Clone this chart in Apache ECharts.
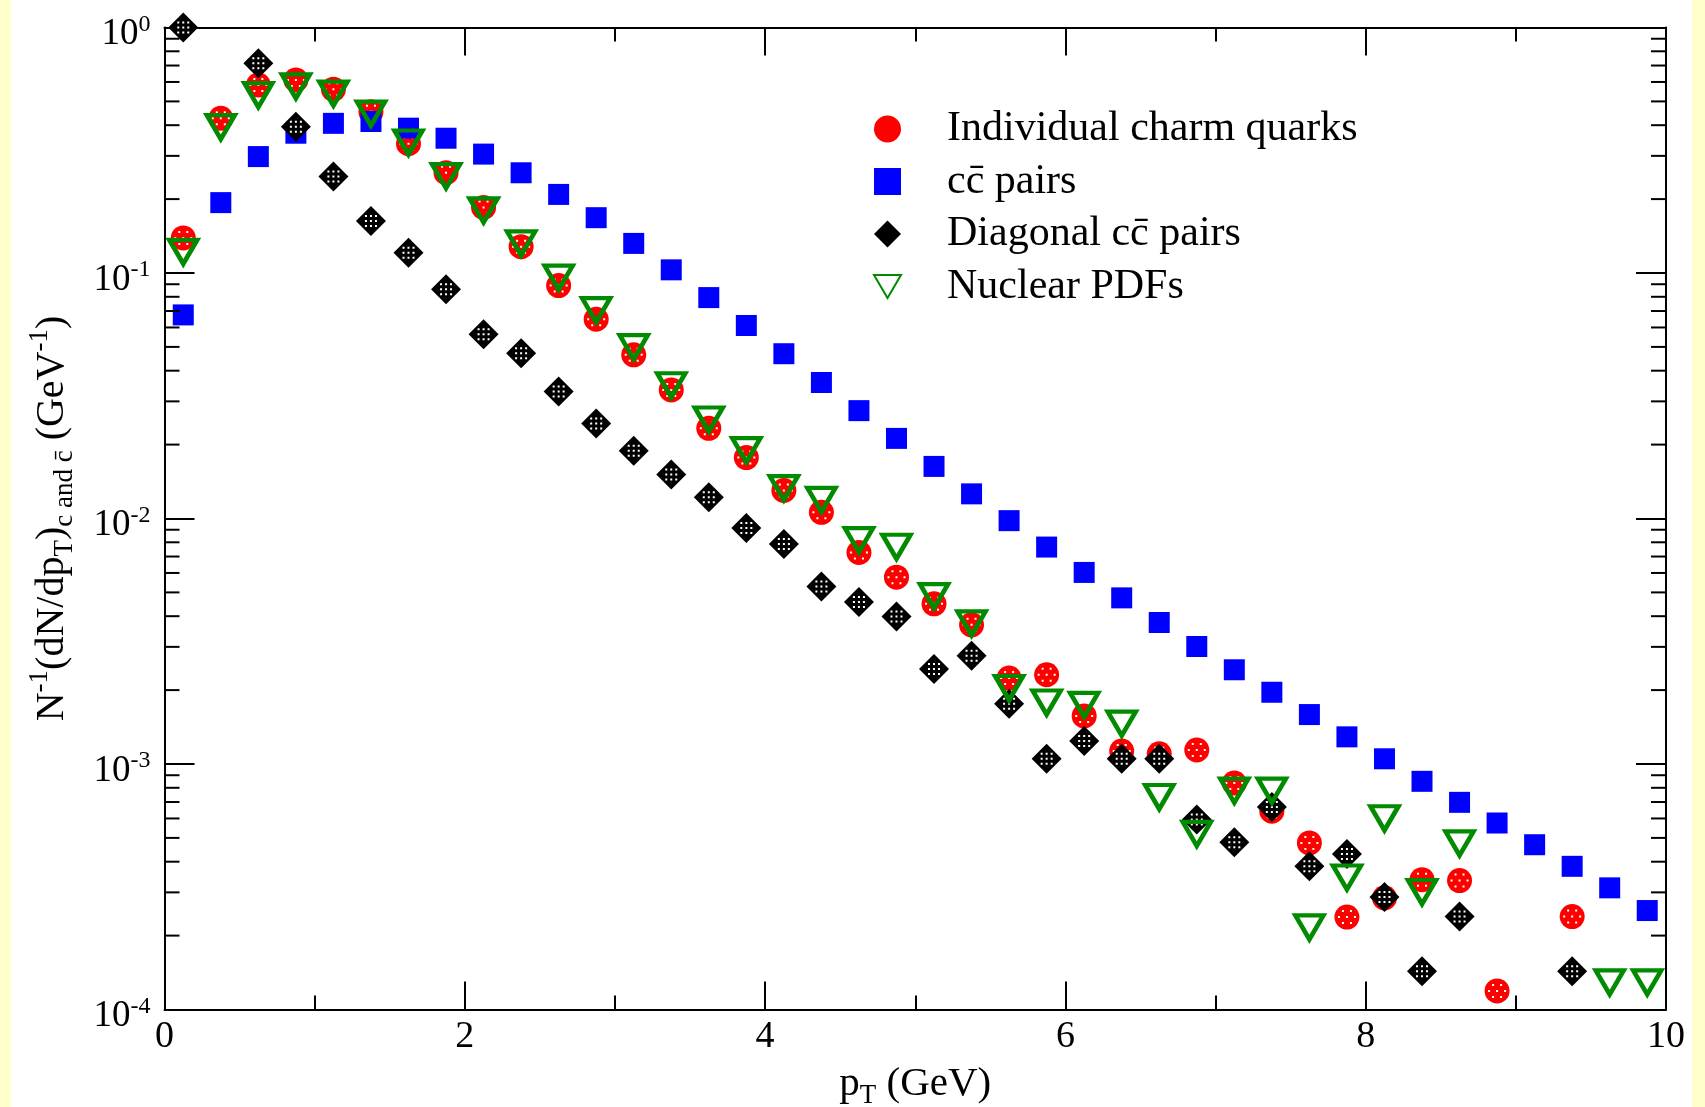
<!DOCTYPE html>
<html><head><meta charset="utf-8">
<script src="https://cdn.jsdelivr.net/npm/echarts@6/dist/echarts.min.js"></script>
<style>html,body{margin:0;padding:0;background:#fff}#c{width:1705px;height:1107px}</style>
</head><body><div id="c"></div>
<script>
// ---- data ----
const pT = [0.125,0.375,0.625,0.875,1.125,1.375,1.625,1.875,2.125,2.375,
            2.625,2.875,3.125,3.375,3.625,3.875,4.125,4.375,4.625,4.875,
            5.125,5.375,5.625,5.875,6.125,6.375,6.625,6.875,7.125,7.375,
            7.625,7.875,8.125,8.375,8.625,8.875,9.125,9.375,9.625,9.875];
const charmQuarks = [0.139,0.427,0.583,0.611,0.560,0.454,0.336,0.256,0.185,0.128,
            0.0889,0.0648,0.0464,0.0334,0.0233,0.0177,0.0130,0.0106,0.00727,0.00577,
            0.00449,0.00369,0.00224,0.00231,0.00157,0.00113,0.00110,0.00114,0.000837,0.000642,
            0.000477,0.000238,0.000285,0.000338,0.000335,0.000119,null,0.000239,null,null];
const ccPairs = [0.0675,0.1935,0.298,0.371,0.407,0.414,0.389,0.354,0.305,0.256,
            0.209,0.168,0.132,0.103,0.0794,0.0611,0.0469,0.0358,0.0275,0.0212,
            0.0163,0.0126,0.0098,0.00765,0.00603,0.00475,0.00377,0.00301,0.00242,0.00196,
            0.00159,0.00129,0.00105,0.00085,0.000698,0.000575,0.000469,0.000383,0.000313,0.000253];
const diagonalPairs = [1.0,null,0.715,0.394,0.247,0.163,0.121,0.0859,0.0563,0.0471,
            0.0329,0.0244,0.0189,0.0151,0.0122,0.00914,0.00787,0.00529,0.00457,0.00399,
            0.00244,0.00276,0.00176,0.00105,0.00124,0.00105,0.00105,0.000594,0.000480,0.000668,
            0.000383,0.000430,0.000287,0.000143,0.000239,null,null,0.000143,null,null];
const nuclearPDFs = [0.122,0.393,0.530,0.576,0.538,0.446,0.340,0.248,0.180,0.132,
            0.0958,0.0706,0.0499,0.0349,0.0253,0.0190,0.0133,0.0119,0.00816,0.00767,
            0.00483,0.00374,0.00204,0.00178,0.00174,0.00146,0.000734,0.000519,0.000779,0.000779,
            0.000216,0.000345,0.000601,0.000301,0.000475,null,null,null,0.000129,0.000129];
const seriesNames = ['Individual charm quarks','cc\u0304 pairs','Diagonal cc\u0304 pairs','Nuclear PDFs'];
const xTickValues = [0,2,4,6,8,10];
const yMinorTicks = [2e-4,3e-4,4e-4,5e-4,6e-4,7e-4,8e-4,9e-4,
                     2e-3,3e-3,4e-3,5e-3,6e-3,7e-3,8e-3,9e-3,
                     2e-2,3e-2,4e-2,5e-2,6e-2,7e-2,8e-2,9e-2,
                     2e-1,3e-1,4e-1,5e-1,6e-1,7e-1,8e-1,9e-1];

// ---- chart ----
const FONT = "'Liberation Serif','DejaVu Serif',serif";
function pts(vals){ return pT.map((x,i)=> vals[i]==null ? null : [x, vals[i]]).filter(Boolean); }
// white dot patterns drawn on top of the filled circle / diamond markers
const circleDots = 'path://M4 0h2v2h-2zM12 0h2v2h-2zM0 6h2v2h-2zM8 6h2v2h-2zM16 6h2v2h-2zM4 12h2v2h-2zM12 12h2v2h-2z';
const diamondDots = 'path://M0 0h2v2h-2zM5 0h2v2h-2zM10 0h2v2h-2zM0 5h2v2h-2zM5 5h2v2h-2zM10 5h2v2h-2zM0 10h2v2h-2zM5 10h2v2h-2zM10 10h2v2h-2z';

const tickStyle = {color:'#000', width:2};
function xAxisCfg(pos, showLabel){
  return {type:'value', min:0, max:10, interval:2, position:pos,
    axisLine:{show:true, onZero:false, lineStyle:tickStyle},
    axisTick:{show:true, inside:true, length:28, lineStyle:tickStyle},
    minorTick:{show:true, splitNumber:2, length:14, lineStyle:tickStyle},
    splitLine:{show:false}, minorSplitLine:{show:false},
    axisLabel:{show:showLabel, fontFamily:FONT, fontSize:38, color:'#000', margin:9,
      formatter:(v)=> xTickValues.indexOf(v)>=0 ? String(v) : ''}
  };
}
function yAxisCfg(pos, showLabel){
  return {type:'log', logBase:10, min:1e-4, max:1, position:pos,
    axisLine:{show:true, onZero:false, lineStyle:tickStyle},
    axisTick:{show:true, inside:true, length:30, lineStyle:tickStyle},
    splitLine:{show:false},
    axisLabel:{show:showLabel, margin:14, color:'#000',
      formatter:(v)=> '{b|10}{s|' + Math.round(Math.log10(v)) + '}',
      rich:{ b:{fontFamily:FONT, fontSize:37, lineHeight:30, padding:[14,0,0,0], color:'#000'},
             s:{fontFamily:FONT, fontSize:24, lineHeight:20, verticalAlign:'top', color:'#000'} }
    }
  };
}
const xa0 = xAxisCfg('bottom', true);
Object.assign(xa0, {name:'{n|p}{sub|T}{n| (GeV)}', nameLocation:'middle', nameGap:50,
  nameTextStyle:{color:'#000', rich:{
    n:{fontFamily:FONT, fontSize:41, lineHeight:50, color:'#000'},
    sub:{fontFamily:FONT, fontSize:27, lineHeight:25, verticalAlign:'bottom', color:'#000'} }}});
const ya0 = yAxisCfg('left', true);
Object.assign(ya0, {name:'{n|N}{sup|-1}{n|(dN/dp}{sub|T}{n|)}{sub|c and c\u0304}{n| (GeV}{sup|-1}{n|)}',
  nameLocation:'middle', nameGap:86, nameRotate:90,
  nameTextStyle:{color:'#000', rich:{
    n:{fontFamily:FONT, fontSize:40, lineHeight:52, color:'#000'},
    sup:{fontFamily:FONT, fontSize:27, lineHeight:26, verticalAlign:'top', color:'#000'},
    sub:{fontFamily:FONT, fontSize:27, lineHeight:26, verticalAlign:'bottom', color:'#000'} }}});

const option = {
  animation:false,
  backgroundColor:'#fff',
  graphic:[
    {type:'rect', shape:{x:0,y:0,width:11,height:1107}, style:{fill:'#FFFFCC'}, silent:true},
    {type:'rect', shape:{x:1692,y:0,width:13,height:1107}, style:{fill:'#FFFFCC'}, silent:true}
  ],
  grid:{left:164.5, right:39, top:27.5, bottom:97.5, containLabel:false, outerBoundsMode:'none'},
  xAxis:[xa0, xAxisCfg('top', false)],
  yAxis:[ya0, yAxisCfg('right', false)],
  legend:{orient:'vertical', left:873, top:108, padding:0, itemWidth:27, itemHeight:27, itemGap:10.5,
    selectedMode:false, data:seriesNames,
    textStyle:{fontFamily:FONT, fontSize:42, color:'#000', padding:[0,0,0,41]}},
  series:[
    {type:'scatter', name:seriesNames[0], data:pts(charmQuarks), symbol:'circle', symbolSize:25, clip:false,
      itemStyle:{color:'#ff0000', opacity:1}},
    {type:'scatter', name:'charmDots', data:pts(charmQuarks), symbol:circleDots, symbolSize:[18,14], clip:false, silent:true,
      itemStyle:{color:'#ffffff', opacity:1}},
    {type:'scatter', name:seriesNames[1], data:pts(ccPairs), symbol:'rect', symbolSize:21, clip:false,
      itemStyle:{color:'#0000ff', opacity:1}},
    {type:'scatter', name:seriesNames[2], data:pts(diagonalPairs), symbol:'diamond', symbolSize:30, clip:false,
      itemStyle:{color:'#000000', opacity:1}},
    {type:'scatter', name:'diagDots', data:pts(diagonalPairs), symbol:diamondDots, symbolSize:12, clip:false, silent:true,
      itemStyle:{color:'#ffffff', opacity:1}},
    {type:'scatter', name:seriesNames[3], data:pts(nuclearPDFs), symbol:'path://M0 0 L20 0 L10 17 Z', symbolSize:[28,24], clip:false,
      itemStyle:{color:'rgba(0,0,0,0)', borderColor:'#008b00', borderWidth:4.5, opacity:1}},
    {type:'custom', name:'yMinorTicks', silent:true, clip:false, z:3,
      data: yMinorTicks.map(v=>[0,v]),
      renderItem:(params, api)=>{
        const v = api.value(1);
        const l = api.coord([0, v]); const r = api.coord([10, v]);
        return {type:'group', children:[
          {type:'line', shape:{x1:l[0], y1:l[1], x2:l[0]+15, y2:l[1]}, style:{stroke:'#000', lineWidth:2}},
          {type:'line', shape:{x1:r[0]-15, y1:r[1], x2:r[0], y2:r[1]}, style:{stroke:'#000', lineWidth:2}}
        ]};
      }}
  ]
};
const chart = echarts.init(document.getElementById('c'), null, {renderer:'canvas'});
chart.setOption(option);
</script>
</body></html>
